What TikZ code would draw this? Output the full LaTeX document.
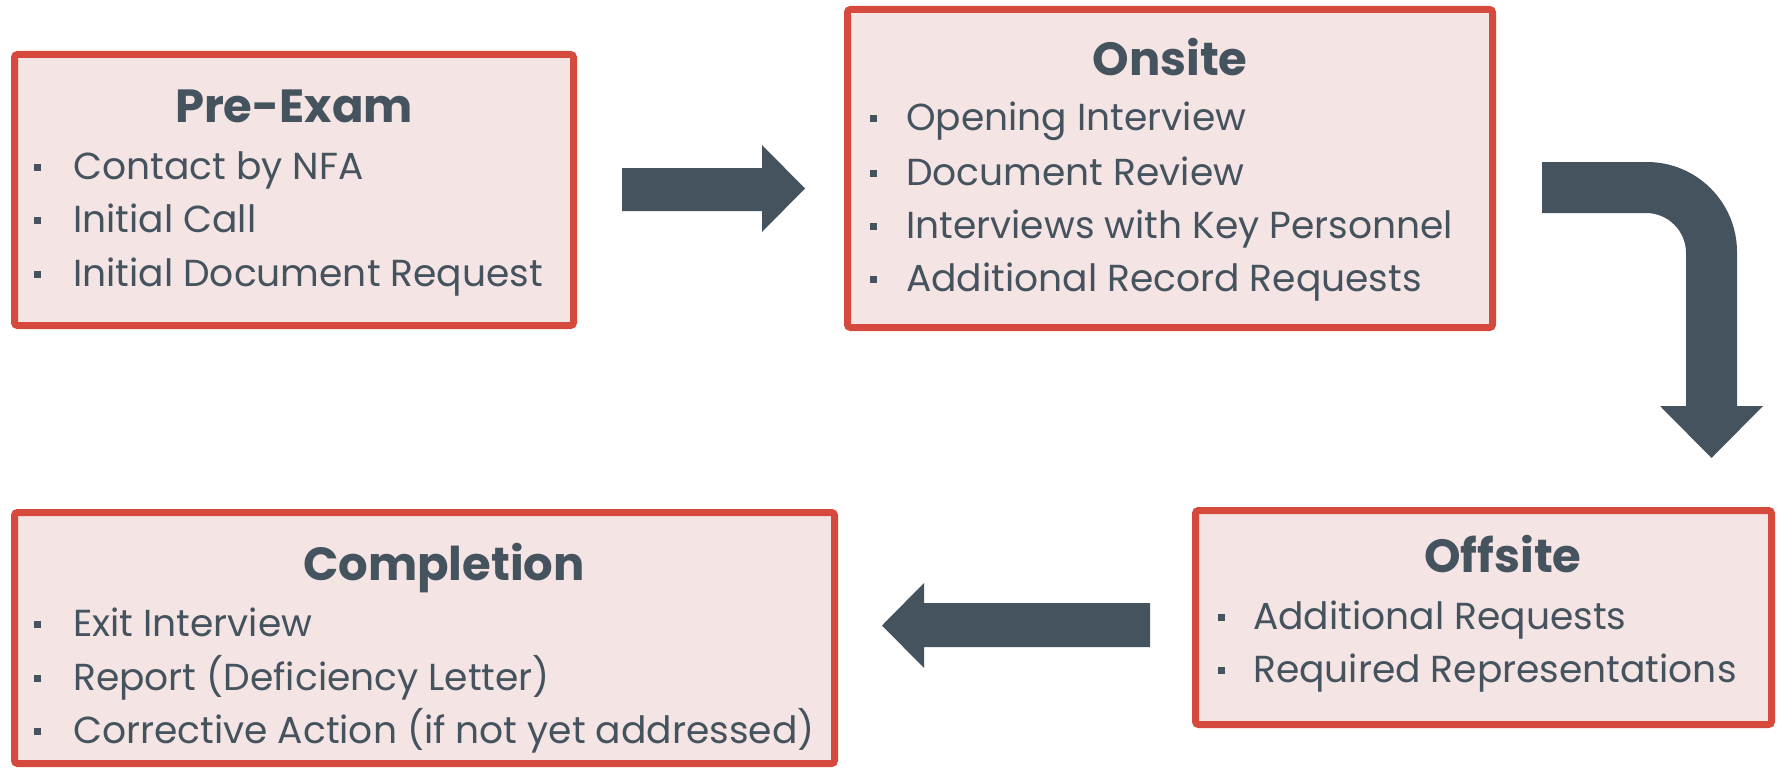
\documentclass[tikz,border=0pt]{standalone}
\usepackage{fontspec}
\setmainfont{Poppins}
\definecolor{bord}{HTML}{D64A3E}
\definecolor{boxfill}{HTML}{F5E4E4}
\definecolor{ink}{HTML}{44535E}
\tikzset{
  stage/.style={draw=bord, line width=7pt, fill=boxfill, rounded corners=3pt, inner sep=0pt},
  ttl/.style={anchor=base, text=ink, font=\fontsize{46.5}{54}\selectfont\bfseries, inner sep=0pt},
  item/.style={anchor=base west, text=ink, font=\fontsize{37.6}{44}\selectfont, inner sep=0pt},
  dot/.style={fill=ink, draw=none, minimum size=7pt, inner sep=0pt},
  blockarrow/.style={fill=ink, draw=none}
}
\begin{document}
\begin{tikzpicture}[x=1pt,y=1pt]
\useasboundingbox (0,0) rectangle (1777,-768);
% boxes
\node[stage, minimum width=559pt, minimum height=271pt] (pre) at (294,-190) {};
\node[stage, minimum width=645pt, minimum height=318pt] (on) at (1170,-168.5) {};
\node[stage, minimum width=576pt, minimum height=214pt] (off) at (1483.5,-617.5) {};
\node[stage, minimum width=820pt, minimum height=251pt] (comp) at (424.5,-638) {};
% titles
\node[ttl] (pret) at (294,-122) {Pre-Exam};
\node[ttl] (ont) at (1170,-76) {Onsite};
\node[ttl] (offt) at (1503,-572) {Offsite};
\node[ttl] (compt) at (444,-580) {Completion};
% pre-exam items
\node[item] (pre1) at (73,-179) {Contact by NFA};
\node[item] (pre2) at (73,-232) {Initial Call};
\node[item] (pre3) at (73,-286) {Initial Document Request};
\foreach \n in {pre1,pre2,pre3} \node[dot] at ([xshift=-36pt,yshift=12pt]\n.base west) {};
% onsite items
\node[item] (on1) at (906,-130) {Opening Interview};
\node[item] (on2) at (906,-185) {Document Review};
\node[item] (on3) at (906,-238) {Interviews with Key Personnel};
\node[item] (on4) at (906,-291) {Additional Record Requests};
\foreach \n in {on1,on2,on3,on4} \node[dot] at ([xshift=-33pt,yshift=12pt]\n.base west) {};
% offsite items
\node[item] (off1) at (1253,-629) {Additional Requests};
\node[item] (off2) at (1253,-682) {Required Representations};
\foreach \n in {off1,off2} \node[dot] at ([xshift=-32pt,yshift=12pt]\n.base west) {};
% completion items
\node[item] (comp1) at (73,-636) {Exit Interview};
\node[item] (comp2) at (73,-690) {Report (Deficiency Letter)};
\node[item] (comp3) at (73,-743) {Corrective Action (if not yet addressed)};
\foreach \n in {comp1,comp2,comp3} \node[dot] at ([xshift=-36pt,yshift=12pt]\n.base west) {};
% arrows
\fill[blockarrow] (622,-168) -- (762,-168) -- (762,-145) -- (805,-188.5) -- (762,-232) -- (762,-211) -- (622,-211) -- cycle;
\fill[blockarrow] (1150,-603) -- (924,-603) -- (924,-583) -- (882,-625.5) -- (924,-668) -- (924,-647) -- (1150,-647) -- cycle;
\fill[blockarrow] (1542,-162) -- (1647,-162) arc[start angle=90, end angle=0, radius=90] -- (1737,-406) -- (1763,-406) -- (1711.5,-458) -- (1660,-406) -- (1686,-406) -- (1686,-253) arc[start angle=0, end angle=90, radius=40] -- (1542,-213) -- cycle;
\end{tikzpicture}
\end{document}
